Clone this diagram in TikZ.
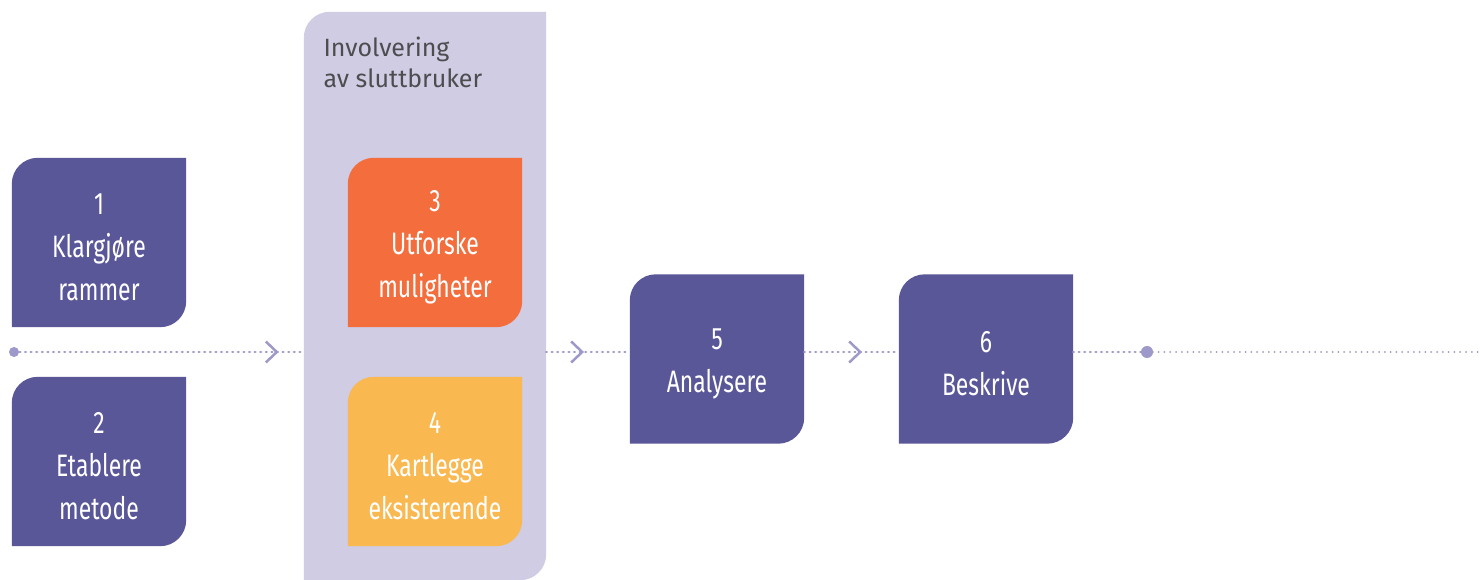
\documentclass[tikz,border=0pt]{standalone}
\usepackage{fontspec}
\setmainfont{Fira Sans}
\newfontfamily\condfont[FakeStretch=0.74]{Fira Sans}
\usetikzlibrary{backgrounds,decorations.markings}
\definecolor{boxpurple}{HTML}{5A5799}
\definecolor{panelc}{HTML}{CFCCE3}
\definecolor{orangec}{HTML}{F36D3D}
\definecolor{yellowc}{HTML}{FAB851}
\definecolor{linec}{HTML}{9D99C8}
\definecolor{greyt}{HTML}{4D4D4F}
\newcommand{\leafshape}[3]{% node, colour, radius
  \fill[#2] (#1.south west) -- ([yshift=-#3]#1.north west)
    arc[start angle=180,end angle=90,radius=#3] -- (#1.north east)
    -- ([yshift=#3]#1.south east)
    arc[start angle=0,end angle=-90,radius=#3] -- cycle;}
\newcommand{\topstrut}{\rule{0pt}{30pt}}
\tikzset{
  stepbox/.style={minimum width=174pt,minimum height=169pt,inner sep=0pt,
    text=white,align=center,font=\condfont\fontsize{31}{43}\selectfont},
  panelbox/.style={minimum width=242pt,minimum height=568pt,inner sep=0pt},
  dotnode/.style={circle,fill=linec,inner sep=0pt,minimum size=10pt},
  densedots/.style={draw=linec,line width=2.6pt,line cap=round,dash pattern=on 0.6pt off 5pt},
  sparsedots/.style={draw=linec,line width=2pt,line cap=round,dash pattern=on 0pt off 5.8pt},
  chev/.style={postaction={decorate},decoration={markings,
    mark=at position #1 with {\draw[linec,line width=2.5pt,solid,line cap=butt,line join=miter]
      (-11pt,10.5pt) -- (0pt,0pt) -- (-11pt,-10.5pt);}}}
}
\begin{document}
\begin{tikzpicture}[x=1pt,y=1pt]
\useasboundingbox (0,0) rectangle (1482,580);
\node[panelbox] (panel) at (425,284) {};
\node[stepbox] (b1) at (99,337.5) {\topstrut 1\\Klargjøre\\rammer};
\node[stepbox] (b2) at (99,118.5) {\topstrut 2\\Etablere\\metode};
\node[stepbox] (b3) at (435,337.5) {\topstrut 3\\Utforske\\muligheter};
\node[stepbox] (b4) at (435,118.5) {\topstrut 4\\Kartlegge\\eksisterende};
\node[stepbox] (b5) at (717,221) {\topstrut 5\\Analysere};
\node[stepbox] (b6) at (986,221) {\topstrut 6\\Beskrive};
\node[anchor=base west,align=left,text=greyt,font=\fontsize{25}{31}\selectfont] (title) at (320,492) {Involvering\\av sluttbruker};
\begin{pgfonlayer}{background}
  \fill[white] (0,0) rectangle (1482,580);
  \leafshape{panel}{panelc}{26pt}
  \leafshape{b1}{boxpurple}{26pt}
  \leafshape{b2}{boxpurple}{26pt}
  \leafshape{b3}{orangec}{26pt}
  \leafshape{b4}{yellowc}{26pt}
  \leafshape{b5}{boxpurple}{26pt}
  \leafshape{b6}{boxpurple}{26pt}
\end{pgfonlayer}
\node[dotnode] (s) at (14,228) {};
\node[dotnode,minimum size=12pt] (d) at (1147,228) {};
\coordinate (e) at (1478,228);
\draw[densedots,chev=-27pt] (s.center) -- (s -| panel.west);
\draw[densedots,chev=36pt] (s -| panel.east) -- (s -| b5.west);
\draw[densedots,chev=56pt] (s -| b5.east) -- (s -| b6.west);
\draw[densedots] (s -| b6.east) -- (d.center);
\draw[sparsedots] (d.center) -- (e);
\end{tikzpicture}
\end{document}
